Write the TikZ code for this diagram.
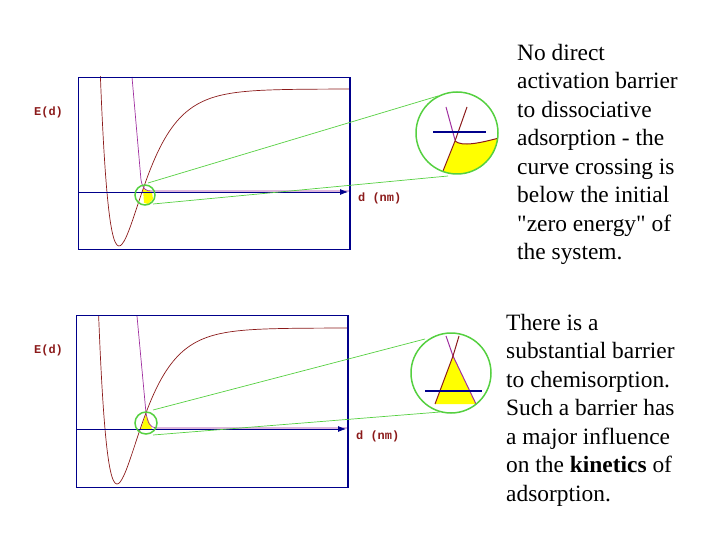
\documentclass[tikz,border=0pt]{standalone}
\usepackage{fontspec}
\usetikzlibrary{arrows.meta}
\setmainfont[Ligatures=TeXOff]{Liberation Serif}
\newfontfamily\labfont{Liberation Mono}
\definecolor{mred}{HTML}{8B1A1A}
\definecolor{mpur}{HTML}{A030A0}
\definecolor{navy}{HTML}{00008B}
\definecolor{zg}{HTML}{55D040}
\definecolor{yel}{HTML}{FFFF00}
\begin{document}
\begin{tikzpicture}[x=1bp,y=-1bp,
  frame/.style={draw=navy,line width=1.5pt},
  morse/.style={draw=mred,line width=0.7pt},
  purp/.style={draw=mpur,line width=0.7pt},
  axis/.style={draw=navy,line width=0.8pt},
  zoomc/.style={circle,draw=zg,line width=1.5pt,inner sep=0pt},
  zl/.style={draw=zg,line width=0.7pt},
  elab/.style={text=mred,font=\labfont\bfseries\fontsize{12}{14}\selectfont,anchor=west,inner sep=0pt},
  body/.style={anchor=north west,align=left,inner sep=0pt,font=\fontsize{23.5}{28.6}\selectfont}]
\useasboundingbox (0,0) rectangle (720,540);
% ---------- top graph
\begin{scope}
\clip (78,77) rectangle (349,249);
\fill[yel] (143,189) -- (152,192) -- (153,199) -- (148,204) -- (144,203) -- cycle;
\draw[morse] plot[domain=95:349,samples=150,smooth] (\x,{246-157*(1-exp(-0.0383*(\x-119)))^2});
\draw[purp] (132,77) -- (141,180) .. controls (143,190) and (146,191) .. (152,191) -- (349,191);
\end{scope}
\node[frame,minimum width=271bp,minimum height=172bp,anchor=north west,inner sep=0pt] (f1) at (78,77) {};
\coordinate (a1s) at (78,192); \coordinate (a1e) at (348,192);
\draw[axis,-{Latex[length=8pt]}] (a1s) -- (a1e);
\node[elab] (e1) at (34,112) {E(d)};
\node[elab] (d1) at (358,198) {d (nm)};
\node[zoomc,minimum size=20bp] (s1) at (145,195) {};
\begin{scope}
\clip (457,133) circle (41);
\fill[yel] (455,141) .. controls (462,147) and (480,143) .. (499,138) -- (499,176) -- (440,176) -- (443,171) -- cycle;
\draw[mpur,line width=1pt] (446,107) -- (455,140);
\draw[mred,line width=1pt] (467,107) -- (455,141) -- (443,171);
\draw[mred,line width=1pt] (455,141) .. controls (462,147) and (480,143) .. (499,138);
\draw[navy,line width=1.5pt] (433,132) -- (486,132);
\end{scope}
\node[zoomc,minimum size=82bp] (b1) at (457,133) {};
\coordinate (t1a) at (148,183); \coordinate (t1b) at (438,96);
\coordinate (u1a) at (153,204); \coordinate (u1b) at (448,176);
\draw[zl] (t1a) -- (t1b); \draw[zl] (u1a) -- (u1b);
\node[body] (txt1) at (517,44) {No direct\\activation barrier\\to dissociative\\adsorption - the\\curve crossing is\\below the initial\\"zero energy" of\\the system.};
% ---------- bottom graph
\begin{scope}
\clip (76,315) rectangle (347,487);
\fill[yel] (146,414) -- (141,429) -- (152,429) -- cycle;
\draw[morse] plot[domain=95:347,samples=150,smooth] (\x,{484-156*(1-exp(-0.0388*(\x-117)))^2});
\draw[purp] (137,316) -- (146,413) .. controls (148,424) and (150,427) .. (156,428) -- (347,428);
\end{scope}
\node[frame,minimum width=271bp,minimum height=172bp,anchor=north west,inner sep=0pt] (f2) at (76,315) {};
\coordinate (a2s) at (76,429); \coordinate (a2e) at (346,429);
\draw[axis,-{Latex[length=8pt]}] (a2s) -- (a2e);
\node[elab] (e2) at (34,350) {E(d)};
\node[elab] (d2) at (356,436) {d (nm)};
\node[zoomc,minimum size=22bp] (s2) at (146,423) {};
\begin{scope}
\clip (451,373) circle (40);
\fill[yel] (453,356) -- (435,404) -- (476,404) -- cycle;
\draw[mpur,line width=1pt] (446,336) -- (453,356) -- (476,404);
\draw[mred,line width=1pt] (459,336) -- (453,356) -- (435,404);
\draw[navy,line width=1.5pt] (425,391) -- (482,391);
\end{scope}
\node[zoomc,minimum size=80bp] (b2) at (451,373) {};
\coordinate (t2a) at (153,410); \coordinate (t2b) at (425,339);
\coordinate (u2a) at (153,435); \coordinate (u2b) at (440,412);
\draw[zl] (t2a) -- (t2b); \draw[zl] (u2a) -- (u2b);
\node[body] (txt2) at (506,314) {There is a\\substantial barrier\\to chemisorption.\\Such a barrier has\\a major influence\\on the \textbf{kinetics} of\\adsorption.};
\end{tikzpicture}
\end{document}
